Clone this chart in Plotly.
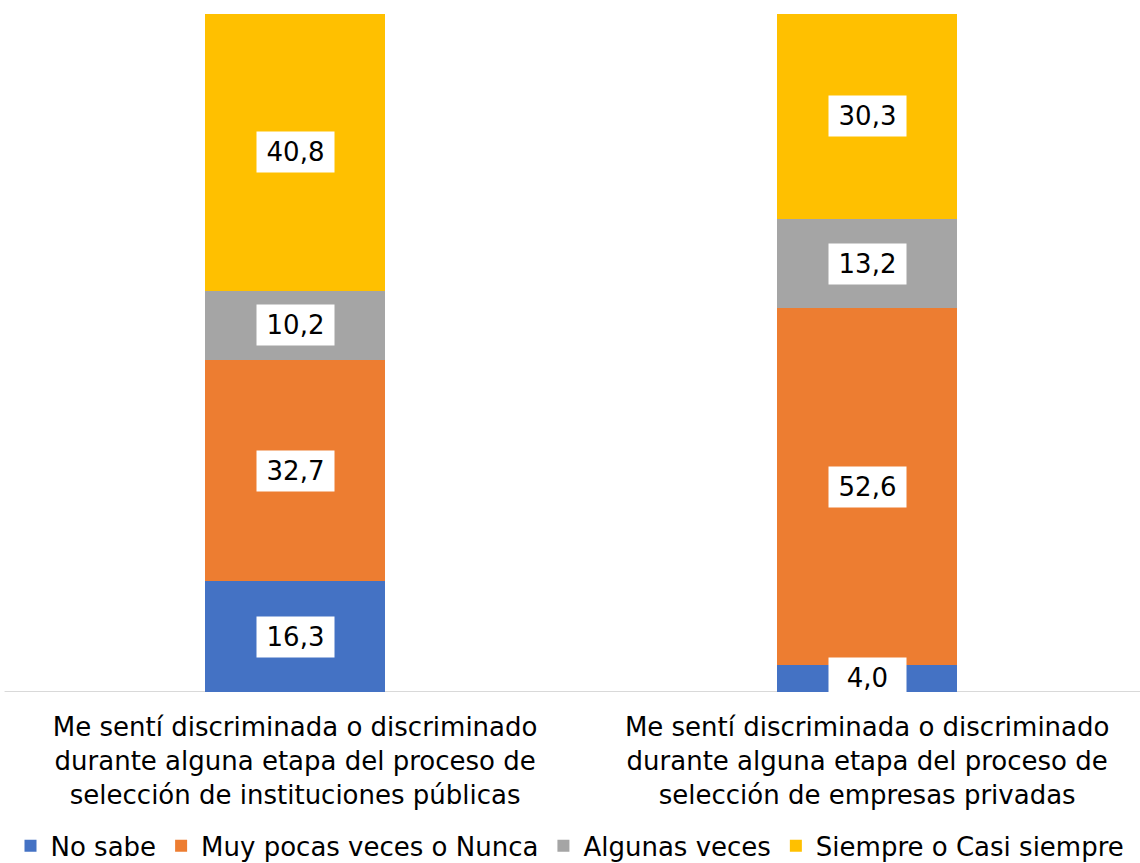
import plotly.graph_objects as go

categories = [
    "Me sentí discriminada o discriminado<br>durante alguna etapa del proceso de<br>selección de instituciones públicas",
    "Me sentí discriminada o discriminado<br>durante alguna etapa del proceso de<br>selección de empresas privadas",
]
series_names = ["No sabe", "Muy pocas veces o Nunca", "Algunas veces", "Siempre o Casi siempre"]
no_sabe = [16.3, 4.0]
pocas_veces = [32.7, 52.6]
algunas_veces = [10.2, 13.2]
siempre = [40.8, 30.3]
colours = ["#4472C4", "#ED7D31", "#A5A5A5", "#FFC000"]

series_values = [no_sabe, pocas_veces, algunas_veces, siempre]
FONT = "DejaVu Sans"

fig = go.Figure()
for name, vals, c in zip(series_names, series_values, colours):
    fig.add_trace(go.Bar(x=[0, 1], y=vals, name=name, marker_color=c,
                         marker_line_width=0, width=0.315, hoverinfo="skip"))

# data labels with white boxes, centred on each segment
for i in range(2):
    base = 0
    for vals in series_values:
        v = vals[i]
        fig.add_annotation(x=i, y=base + v / 2, text=f"{v:.1f}".replace(".", ","),
                           showarrow=False, bgcolor="white", borderpad=6,
                           width=65, height=28,
                           font=dict(family=FONT, size=26, color="#000000"))
        base += v

fig.update_layout(
    barmode="stack",
    width=1140, height=863,
    paper_bgcolor="white", plot_bgcolor="white",
    margin=dict(l=0, r=0, t=14, b=171, autoexpand=False),
    font=dict(family=FONT, size=26, color="#000000"),
    showlegend=True,
    legend=dict(orientation="h", x=0.5, xanchor="center",
                y=-0.2615, yanchor="bottom",
                font=dict(family=FONT, size=26, color="#000000"),
                itemwidth=30, traceorder="normal", itemclick=False),
    xaxis=dict(range=[-0.516, 1.477], tickvals=[0, 1], ticktext=categories,
               showline=False, showgrid=False, zeroline=False, ticks="",
               automargin=False, ticklabelstandoff=17,
               tickfont=dict(family=FONT, size=26, color="#000000")),
    yaxis=dict(range=[0, 100], visible=False, showgrid=False),
)
# baseline
fig.add_shape(type="line", xref="paper", yref="y", x0=0.004, x1=1, y0=0, y1=0,
              line=dict(color="#D9D9D9", width=2), layer="below")

fig.write_html("out.html", config={"displayModeBar": False},
               post_script="document.body.style.margin='0';")
